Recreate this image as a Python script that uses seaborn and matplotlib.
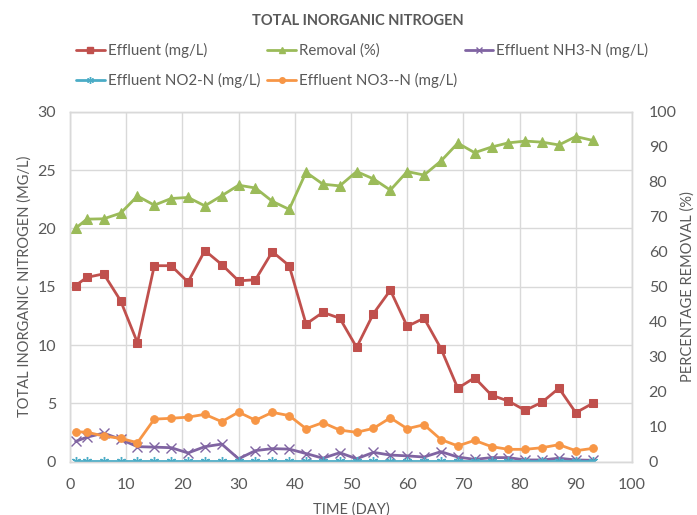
import matplotlib
matplotlib.use("Agg")
import matplotlib.pyplot as plt
import seaborn as sns
import pandas as pd
from matplotlib.lines import Line2D

days = [1, 3, 6, 9, 12, 15, 18, 21, 24, 27, 30, 33, 36, 39, 42, 45,
        48, 51, 54, 57, 60, 63, 66, 69, 72, 75, 78, 81, 84, 87, 90, 93]
effluent = [15.1, 15.8, 16.1, 13.8, 10.2, 16.8, 16.8, 15.4, 18.1, 16.9, 15.5, 15.6,
            18.0, 16.8, 11.8, 12.8, 12.3, 9.8, 12.7, 14.7, 11.6, 12.3, 9.7, 6.3,
            7.2, 5.7, 5.2, 4.4, 5.1, 6.3, 4.2, 5.0]
removal = [66.7, 69.3, 69.4, 71.0, 75.9, 73.3, 75.2, 75.5, 73.1, 76.0, 79.0, 78.2,
           74.4, 72.1, 82.7, 79.3, 78.8, 82.9, 80.8, 77.6, 82.9, 81.9, 85.9, 91.0,
           88.3, 89.9, 91.1, 91.6, 91.3, 90.5, 92.9, 91.8]
nh3 = [1.74, 2.1, 2.45, 1.92, 1.29, 1.25, 1.2, 0.75, 1.29, 1.51, 0.25, 0.95,
       1.12, 1.08, 0.7, 0.3, 0.77, 0.25, 0.8, 0.57, 0.5, 0.4, 0.86, 0.4,
       0.2, 0.35, 0.35, 0.15, 0.15, 0.3, 0.15, 0.12]
no2 = [0.05, 0.05, 0.05, 0.05, 0.05, 0.05, 0.05, 0.05, 0.05, 0.05, 0.05, 0.05,
       0.05, 0.05, 0.05, 0.05, 0.05, 0.05, 0.05, 0.05, 0.05, 0.05, 0.05, 0.05,
       0.05, 0.05, 0.05, 0.05, 0.05, 0.05, 0.05, 0.05]
no3 = [2.57, 2.53, 2.2, 2.0, 1.63, 3.65, 3.72, 3.82, 4.06, 3.43, 4.25, 3.55,
       4.23, 3.95, 2.83, 3.35, 2.71, 2.52, 2.86, 3.76, 2.83, 3.17, 1.9, 1.35,
       1.83, 1.29, 1.06, 1.06, 1.2, 1.46, 0.94, 1.14]

labels = ["Effluent (mg/L)", "Removal (%)", "Effluent NH3-N (mg/L)",
          "Effluent NO2-N (mg/L)", "Effluent NO3--N (mg/L)"]
x_ticks = [0, 10, 20, 30, 40, 50, 60, 70, 80, 90, 100]
y_ticks = [0, 5, 10, 15, 20, 25, 30]
y2_ticks = [0, 10, 20, 30, 40, 50, 60, 70, 80, 90, 100]

sns.set_style("white")
plt.rcParams['font.family'] = ['Lato', 'DejaVu Sans']

df = pd.DataFrame({"day": days, "eff": effluent, "rem": removal,
                   "nh3": nh3, "no2": no2, "no3": no3})

RED = "#C0504D"; GREEN = "#9BBB59"; PURPLE = "#8064A2"
CYAN = "#4BACC6"; ORANGE = "#F79646"
TXT = "#595959"; GRID = "#D9D9D9"

fig = plt.figure(figsize=(6.97, 5.15), dpi=100)
ax = fig.add_axes([70/697, 1 - 461.7/515, (632 - 70)/697, (461.7 - 111.7)/515])
ax2 = ax.twinx()

lw = 2.0
ms = 5.5
sns.lineplot(data=df, x="day", y="eff", ax=ax, color=RED, marker="s", markersize=ms,
             markeredgecolor=RED, linewidth=lw, zorder=3)
sns.lineplot(data=df, x="day", y="nh3", ax=ax, color=PURPLE, marker="x", markersize=ms + 1,
             markeredgecolor=PURPLE, markeredgewidth=1.0, linewidth=lw, zorder=3)
sns.lineplot(data=df, x="day", y="no2", ax=ax, color=CYAN, marker=(6, 2, 0), markersize=ms + 1,
             markeredgecolor=CYAN, markeredgewidth=1.0, linewidth=lw, zorder=3)
sns.lineplot(data=df, x="day", y="no3", ax=ax, color=ORANGE, marker="o", markersize=ms,
             markeredgecolor=ORANGE, linewidth=lw, zorder=3)
sns.lineplot(data=df, x="day", y="rem", ax=ax2, color=GREEN, marker="^", markersize=ms + 1,
             markeredgecolor=GREEN, linewidth=lw, zorder=3)

ax.set_xlim(0, 100)
ax.set_ylim(0, 30)
ax2.set_ylim(0, 100)
ax.set_xticks(x_ticks)
ax.set_yticks(y_ticks)
ax2.set_yticks(y2_ticks)
ax.grid(True, color=GRID, linewidth=1.0)
ax.set_axisbelow(True)
for a in (ax, ax2):
    for s in a.spines.values():
        s.set_color(GRID)
        s.set_linewidth(1.0)
    a.tick_params(length=0, labelsize=11.5, labelcolor=TXT)
ax.tick_params(axis="x", pad=12)
ax.tick_params(axis="y", pad=10)
ax2.tick_params(axis="y", pad=12)

ax.set_xlabel("TIME (DAY)", fontsize=10.5, color=TXT, labelpad=7)
ax.set_ylabel("TOTAL INORGANIC NITROGEN (MG/L)", fontsize=10.5, color=TXT, labelpad=4)
ax2.set_ylabel("PERCENTAGE REMOVAL (%)", fontsize=10.5, color=TXT, labelpad=3)

fig.text(358/697, 1 - 21/515, "TOTAL INORGANIC NITROGEN", ha="center", va="center",
         fontsize=10.5, fontweight="bold", color=TXT)

handles = [
    Line2D([], [], color=RED, marker="s", markersize=4, linewidth=lw),
    Line2D([], [], color=GREEN, marker="^", markersize=4.5, linewidth=lw),
    Line2D([], [], color=PURPLE, marker="x", markersize=5, linewidth=lw),
    Line2D([], [], color=CYAN, marker=(6, 2, 0), markersize=5, linewidth=lw),
    Line2D([], [], color=ORANGE, marker="o", markersize=4, linewidth=lw),
]
order = [0, 3, 1, 4, 2]
fig.legend([handles[i] for i in order], [labels[i] for i in order], ncol=3,
           loc="upper left", bbox_to_anchor=(76/697, 1 - 43/515), frameon=False,
           fontsize=10.8, labelcolor=TXT, handlelength=1.9, handletextpad=0.2,
           columnspacing=0.5, labelspacing=1.0, borderpad=0, borderaxespad=0)

fig.savefig("out.png", dpi=100)
